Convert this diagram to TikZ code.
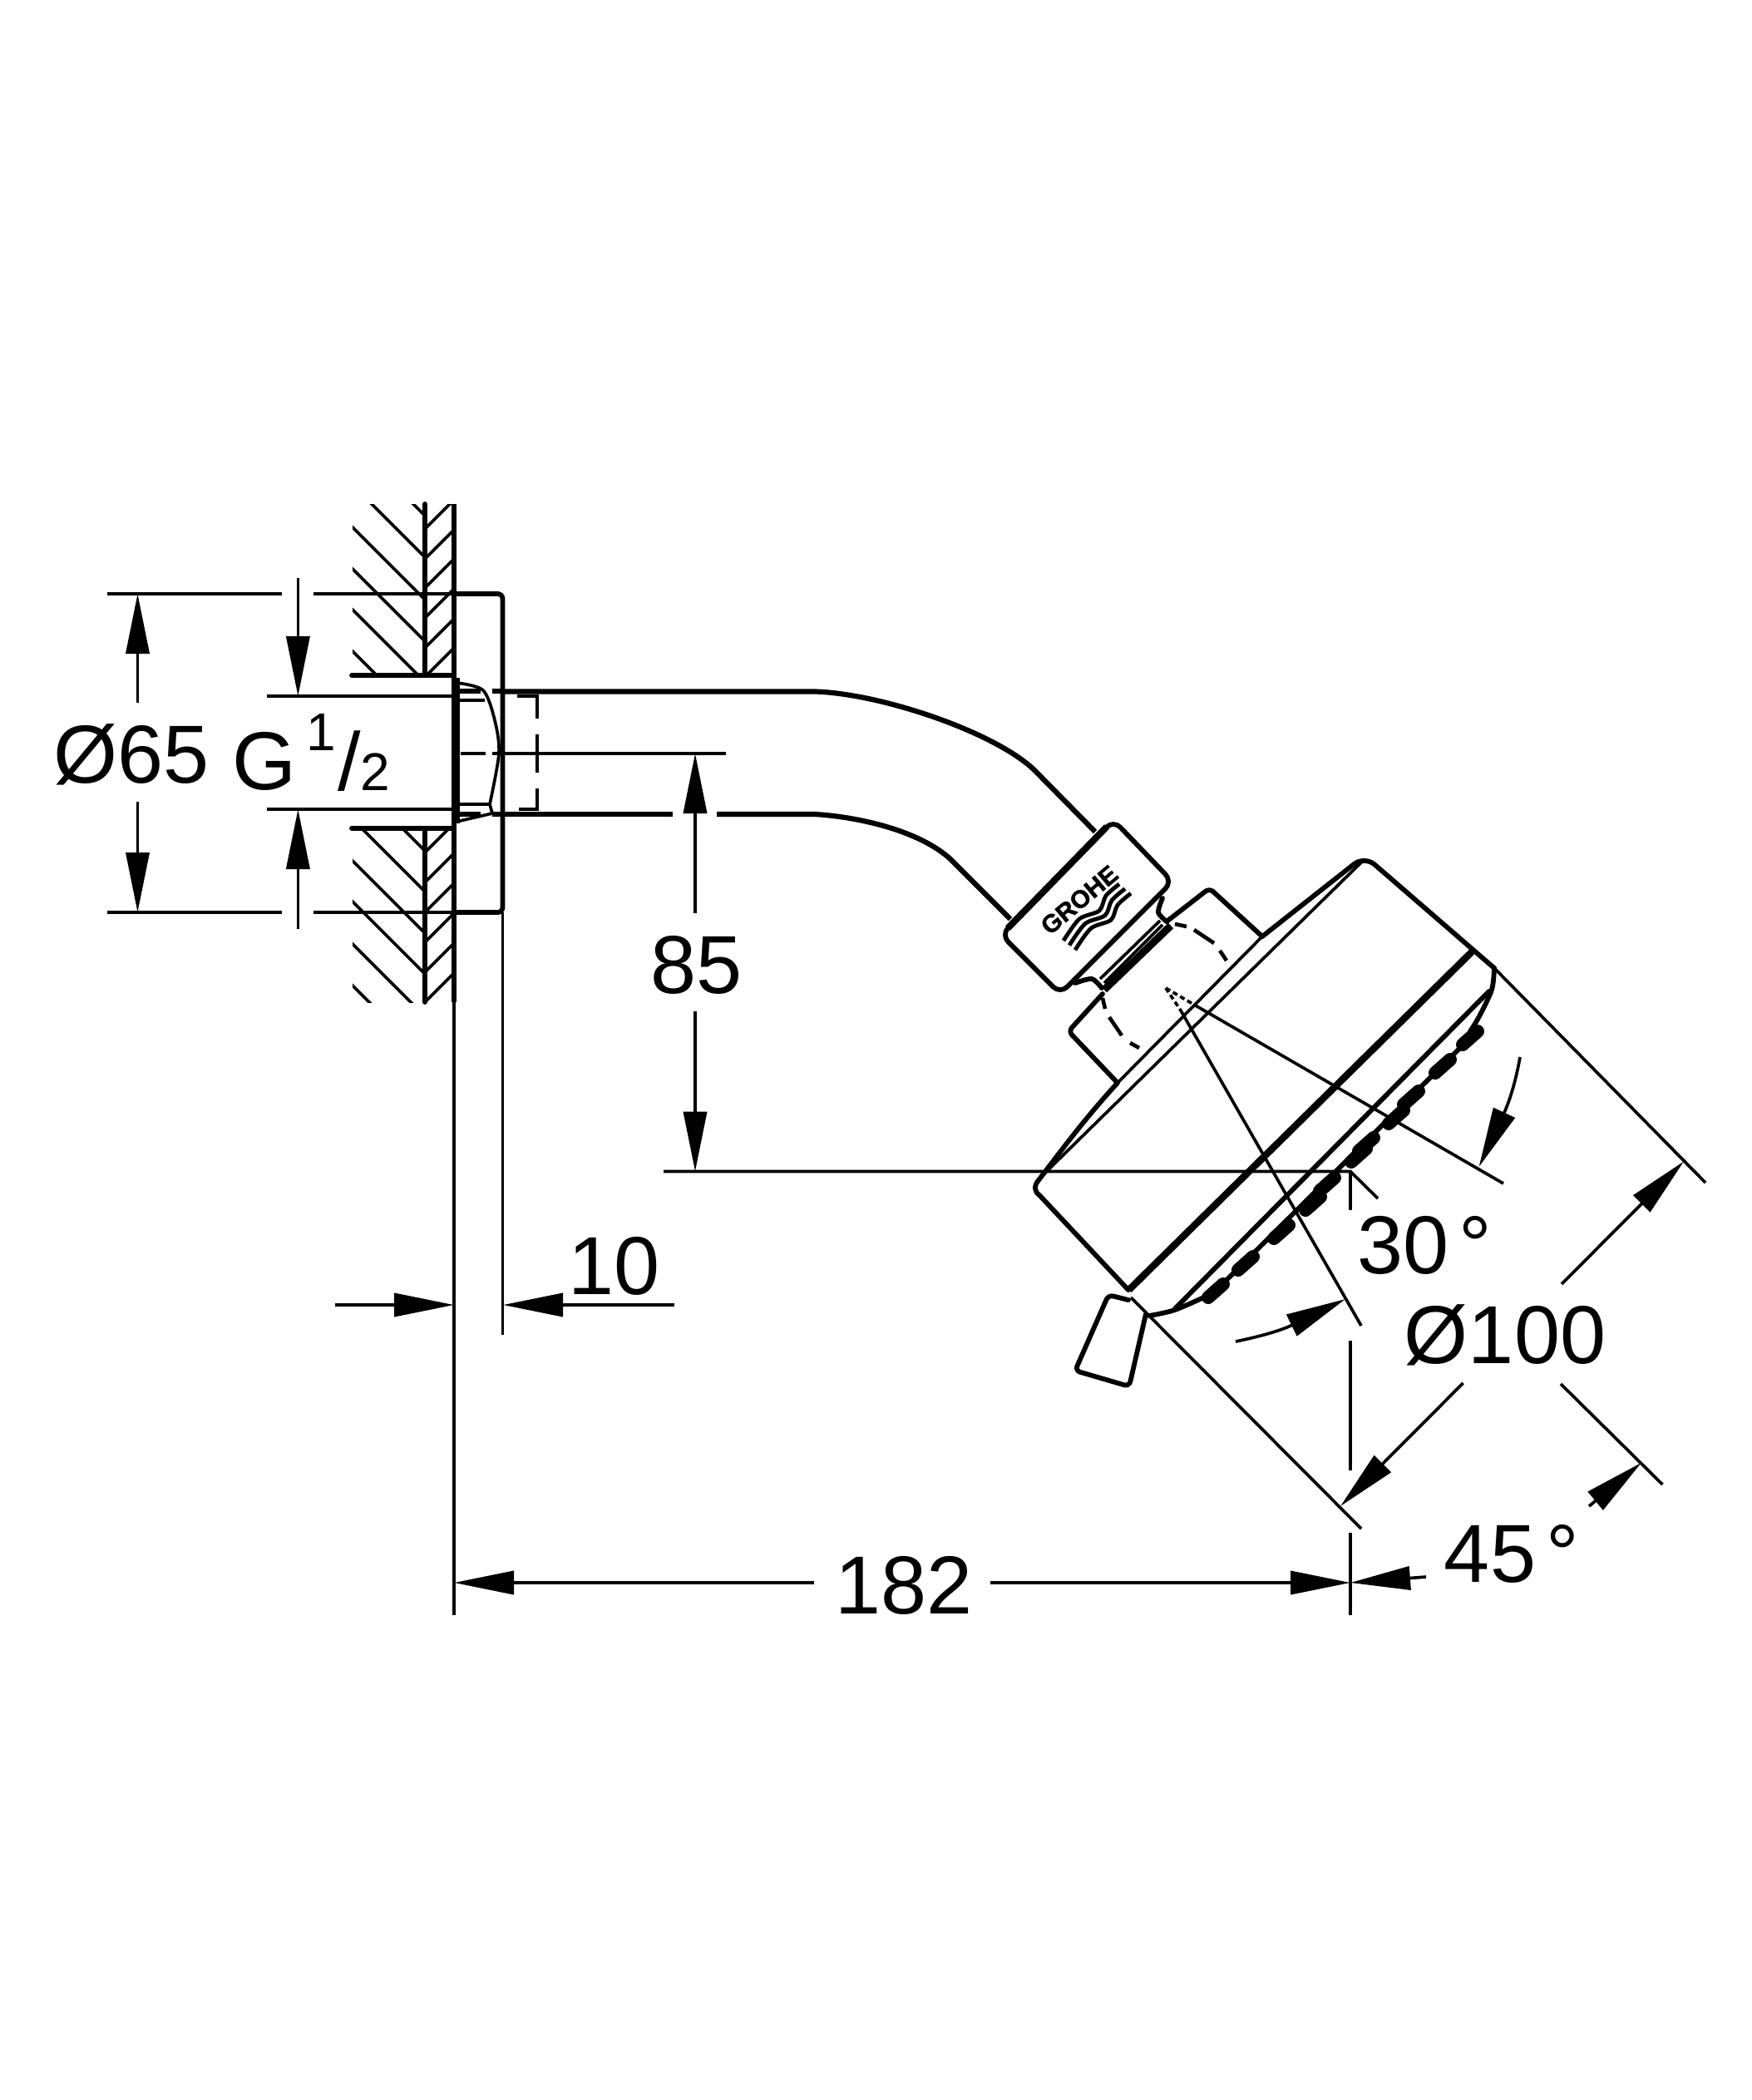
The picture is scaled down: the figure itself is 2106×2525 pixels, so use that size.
\documentclass[tikz,border=0pt]{standalone}
\usepackage{fontspec}
\setmainfont{Liberation Sans}
\newfontfamily\logofont[BoldFeatures={FakeBold=1.5}]{Liberation Sans}
\usetikzlibrary{arrows.meta}
\tikzset{
  thin line/.style={line width=1.85pt,line cap=butt},
  mid line/.style={line width=2.9pt,line join=round,line cap=round},
  heavy line/.style={line width=4.2pt,line join=round,line cap=butt},
  hidden line/.style={line width=2.3pt,line cap=butt},
  dim/.style={line width=1.85pt,-{Triangle[length=36pt,width=14pt]}},
  dimtext/.style={font=\fontsize{49.5}{50}\selectfont,inner sep=0pt,anchor=base},
  smalltext/.style={font=\fontsize{32}{32}\selectfont,inner sep=0pt,anchor=base}
}
\begin{document}
\begin{tikzpicture}[x=0.5pt,y=-0.5pt]
\useasboundingbox (0,0) rectangle (2106,2525);
% --- wall hatching, upper
\begin{scope}
\clip (424,606) rectangle (511,812);
\foreach \c in {109,159,210,260,309,359}
  \draw[thin line] (400,{400+\c}) -- (520,{520+\c});
\end{scope}
\begin{scope}
\clip (511,606) rectangle (546,812);
\foreach \c in {1147,1183,1218,1254,1290,1325}
  \draw[thin line] (500,{\c-500}) -- (550,{\c-550});
\end{scope}
% --- wall hatching, lower
\begin{scope}
\clip (424,996) rectangle (511,1205);
\foreach \c in {512,561,611,660,711,761}
  \draw[thin line] (400,{400+\c}) -- (520,{520+\c});
\end{scope}
\begin{scope}
\clip (511,996) rectangle (546,1205);
\foreach \c in {1536,1572,1608,1644,1680,1716}
  \draw[thin line] (500,{\c-500}) -- (550,{\c-550});
\end{scope}
% --- wall
\draw[mid line] (511,606) -- (511,812);
\draw[mid line] (511,996) -- (511,1205);
\draw[thin line] (546,606) -- (546,1942);
\draw[line width=3pt] (546,606) -- (546,1205);
\draw[line width=4.5pt] (548,815) -- (548,990);
\draw[mid line] (423,812) -- (546,812);
\draw[mid line] (423,996) -- (546,996);
% --- flange
\draw[mid line,rounded corners=3pt] (546,714) -- (604.5,714) -- (604.5,1097) -- (546,1097);
\draw[thin line] (604.5,1097) -- (604.5,1605);
% --- inner thread detail
\draw[thin line] plot[smooth] coordinates {(549,821) (581,830) (595,866) (600,906) (589,967)};
\draw[thin line] (589,967) -- (592,978) -- (549,988);
\draw[thin line] (551,842) -- (583,842);
\draw[thin line] (551,967) -- (589,967);
% --- hidden thread
\draw[hidden line] (622,837) -- (646,837) -- (646,864);
\draw[hidden line] (646,883) -- (646,929);
\draw[hidden line] (646,948) -- (646,973) -- (624,973);
\draw[thin line] (554,906) -- (584,906);
\draw[thin line] (592,906) -- (873,906);
% --- pipe
\draw[line width=3pt] (549,831) -- (578,831);
\draw[line width=3pt] (592,831) -- (603,831);
\draw[line width=3pt] (549,978.5) -- (578,978.5);
\draw[line width=3pt] (592,978.5) -- (603,978.5);
\draw[line width=3.1pt] (605,831.5) -- (980,831.5) .. controls (1060,834) and (1195,880) .. (1243,925) -- (1317,1000);
\draw[line width=3.1pt] (605,979) -- (809,979);
\draw[line width=3.1pt] (862,979) -- (980,979) .. controls (1030,982) and (1105,998) .. (1143,1033) -- (1215,1105);
% --- nut
\draw[mid line,rounded corners=6pt] (1339,986) -- (1410,1060) -- (1275,1195) -- (1204,1124) -- cycle;
\draw[line width=4pt] (1212,1116) -- (1331,994);
% logo
\node[font=\logofont\bfseries\fontsize{15}{15}\selectfont,rotate=40,inner sep=0pt] (logo) at (1298,1082) {GROHE};
\foreach \d in {0,7,14}
  \draw[line width=2.4pt] plot[smooth] coordinates {({1279+\d},{1131+\d*.8}) ({1298+\d},{1105+\d*.8}) ({1322+\d},{1095+\d*.8}) ({1330+\d},{1077+\d*.8}) ({1346+\d},{1063+\d*.8})};
% --- neck
\draw[mid line] plot[smooth] coordinates {(1398,1080) (1393,1097) (1403,1108)};
\draw[mid line] plot[smooth] coordinates {(1293,1182) (1313,1177) (1325,1188)};
\draw[thin line] (1323,1177) -- (1395,1107);
\draw[thin line] (1328,1182) -- (1398,1112);
\draw[line width=4.5pt] (1328,1190) -- (1408,1113);
% --- connector block
\draw[mid line,rounded corners=3pt] (1403,1108) -- (1454.5,1068) -- (1518,1126);
\draw[mid line,rounded corners=3pt] (1326,1195) -- (1285,1240) -- (1343,1301);
\foreach \a/\b/\c/\d in {1413/1111/1427/1114,1436/1118/1460/1134,1467/1143/1475/1155,1326/1200/1329/1213,1334/1223/1349/1245,1359/1254/1370/1260}
  \draw[hidden line] (\a,\b) -- (\c,\d);
% --- head
\draw[mid line,rounded corners=8pt] (1518,1126) -- (1641,1029) -- (1797,1164);
\draw[thin line] (1641,1033) -- (1255,1412);
\draw[thin line] (1518,1126) -- (1344,1302);
\draw[mid line] (1344,1302) .. controls (1300,1350) and (1270,1392) .. (1249,1419) .. controls (1243,1426) and (1244,1433) .. (1250,1437) -- (1357,1551);
\draw[heavy line] (1770.5,1144) -- (1357.6,1551);
% --- front
\draw[mid line] plot[smooth] coordinates {(1797,1164) (1794,1190) (1779,1222) (1768,1240)};
\draw[mid line] (1790.6,1192) -- (1413,1573.5);
\draw[mid line] plot[smooth] coordinates {(1382,1582) (1413,1575) (1454,1557)};
\draw[mid line] (1775,1241) -- (1462,1552);
\foreach \x/\y in {1768/1248,1735/1282,1697/1320,1679/1343,1643/1376,1634/1389,1596/1424,1579/1447,1541/1481,1498/1519,1462/1552}
  \draw[line width=8pt,line cap=round] ({\x+9},{\y-8}) -- ({\x-9},{\y+8});
% --- lever
\draw[mid line,rounded corners=3pt] (1357,1563) -- (1333,1557) -- (1293,1648) -- (1358,1667) -- (1378,1580);
% --- extension lines
\draw[thin line] (1797,1164) -- (2051,1422);
\draw[thin line] (1360,1560) -- (1637,1838);
% --- 30/45 degree construction
\draw[thin line,densely dashed] (1402,1188) -- (1436,1208);
\draw[thin line] (1436,1208) -- (1808,1423);
\draw[thin line,densely dashed] (1402,1188) -- (1420,1215);
\draw[thin line] (1420,1215) -- (1637,1594);
\draw[thin line] (798,1408.5) -- (1624,1408.5) -- (1657,1441);
\draw[thin line] (1624,1408.5) -- (1624,1455);
\draw[thin line] (1624,1612) -- (1624,1768);
\draw[thin line] (1624,1843) -- (1624,1942);
% --- dimension arrows
\draw[thin line] (129,714) -- (339,714);
\draw[thin line] (377,714) -- (546,714);
\draw[thin line] (129,1097) -- (339,1097);
\draw[thin line] (377,1097) -- (546,1097);
\draw[thin line] (321,837) -- (546,837);
\draw[thin line] (321,973) -- (546,973);
\coordinate (dTa) at (165.5,845); \coordinate (dTb) at (165.5,714);
\coordinate (dBa) at (165.5,964); \coordinate (dBb) at (165.5,1097);
\draw[dim] (dTa) -- (dTb);
\draw[dim] (dBa) -- (dBb);
\coordinate (gTa) at (358.4,694.5); \coordinate (gTb) at (358.4,837);
\coordinate (gBa) at (358.4,1117); \coordinate (gBb) at (358.4,973);
\draw[dim] (gTa) -- (gTb);
\draw[dim] (gBa) -- (gBb);
\coordinate (h85a) at (836,1098); \coordinate (h85b) at (836,906);
\coordinate (h85c) at (836,1216); \coordinate (h85d) at (836,1408.5);
\draw[dim] (h85a) -- (h85b);
\draw[dim] (h85c) -- (h85d);
\coordinate (t10a) at (403,1569); \coordinate (t10b) at (546,1569);
\coordinate (t10c) at (811,1569); \coordinate (t10d) at (605,1569);
\draw[dim] (t10a) -- (t10b);
\draw[dim] (t10c) -- (t10d);
\coordinate (w182a) at (979,1903); \coordinate (w182b) at (546,1903);
\coordinate (w182c) at (1191,1903); \coordinate (w182d) at (1624,1903);
\draw[dim] (w182a) -- (w182b);
\draw[dim] (w182c) -- (w182d);
\coordinate (w45a) at (1715,1896); \coordinate (w45b) at (1624,1903);
\draw[dim] (w45a) -- (w45b);
\coordinate (r100a) at (1759.5,1663); \coordinate (r100b) at (1612,1811);
\coordinate (r100c) at (1878,1544); \coordinate (r100d) at (2025,1396.4);
\draw[dim] (r100a) -- (r100b);
\draw[dim] (r100c) -- (r100d);
\draw[thin line] (1877,1664) -- (1999.4,1785);
\coordinate (a45a) at (1911,1811); \coordinate (a45b) at (1974,1758.7);
\draw[dim] (a45a) -- (a45b);
\coordinate (a30a) at (1828,1271); \coordinate (a30b) at (1778.6,1403);
\draw[dim] (a30a) .. controls (1823,1300) and (1815,1325) .. (a30b);
\coordinate (b30a) at (1486,1613); \coordinate (b30b) at (1618,1562);
\draw[dim] (b30a) .. controls (1515,1607) and (1540,1600) .. (b30b);
% --- texts
\node[dimtext] (tA) at (158,941) {Ø65};
\node[dimtext] (tG) at (318,949) {G};
\node[smalltext] (tN) at (386,902) {1};
\node[dimtext] (tS) at (420,950) {/};
\node[smalltext] (tD) at (451,950) {2};
\node[dimtext] (t85) at (838,1194) {85};
\node[dimtext] (t10) at (739,1556) {10};
\node[dimtext] (t182) at (1087,1940) {182};
\node[dimtext] (t30) at (1687.5,1531) {30};
\node[dimtext] (t30d) at (1774,1531) {°};
\node[dimtext] (t100) at (1810,1639) {Ø100};
\node[dimtext] (t45) at (1792,1902) {45};
\node[dimtext] (t45d) at (1879,1902) {°};
\end{tikzpicture}
\end{document}
